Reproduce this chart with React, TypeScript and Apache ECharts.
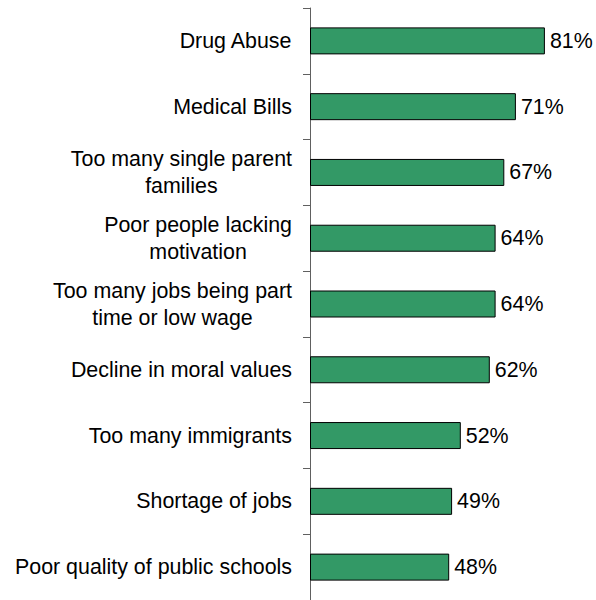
import React, { useEffect, useRef } from "react";
import * as echarts from "echarts";

const categories = [
  "Drug Abuse",
  "Medical Bills",
  "Too many single parent\nfamilies",
  "Poor people lacking\nmotivation",
  "Too many jobs being part\ntime or low wage",
  "Decline in moral values",
  "Too many immigrants",
  "Shortage of jobs",
  "Poor quality of public schools",
];
const values = [81, 71, 67, 64, 64, 62, 52, 49, 48];

const FONT = "'Liberation Sans', Arial, Helvetica, sans-serif";
const FS = 21.4;

export default function App() {
  const ref = useRef<HTMLDivElement>(null);
  useEffect(() => {
    if (!ref.current) return;
    const chart = echarts.init(ref.current, undefined, { renderer: "svg" });
    chart.setOption({
      animation: false,
      grid: { left: 310, top: 8, bottom: 0, right: 25, containLabel: false },
      xAxis: {
        type: "value",
        min: 0,
        max: 90,
        show: false,
      },
      yAxis: {
        type: "category",
        inverse: true,
        data: categories,
        axisLine: { show: true, lineStyle: { color: "#606060", width: 1 } },
        axisTick: { show: true, length: 7, lineStyle: { color: "#606060" } },
        axisLabel: {
          margin: 18,
          color: "#000",
          fontFamily: FONT,
          fontSize: FS,
          lineHeight: 27,
          align: "right",
          formatter: (v: string) =>
            v
              .split("\n")
              .map((l) => `{c|${l}}`)
              .join("\n"),
          rich: {
            c: {
              align: "center",
              fontFamily: FONT,
              fontSize: FS,
              lineHeight: 27,
              color: "#000",
            },
          },
        },
        splitLine: { show: false },
      },
      series: [
        {
          type: "bar",
          data: values,
          barWidth: 27,
          itemStyle: { color: "#339966", borderColor: "#000", borderWidth: 1 },
          label: {
            show: true,
            position: "right",
            distance: 5,
            formatter: "{c}%",
            color: "#000",
            fontFamily: FONT,
            fontSize: FS,
          },
        },
      ],
    });
    return () => chart.dispose();
  }, []);
  return (
    <div
      ref={ref}
      style={{ position: "fixed", left: 0, top: 0, width: 596, height: 600, background: "#fff" }}
    />
  );
}
